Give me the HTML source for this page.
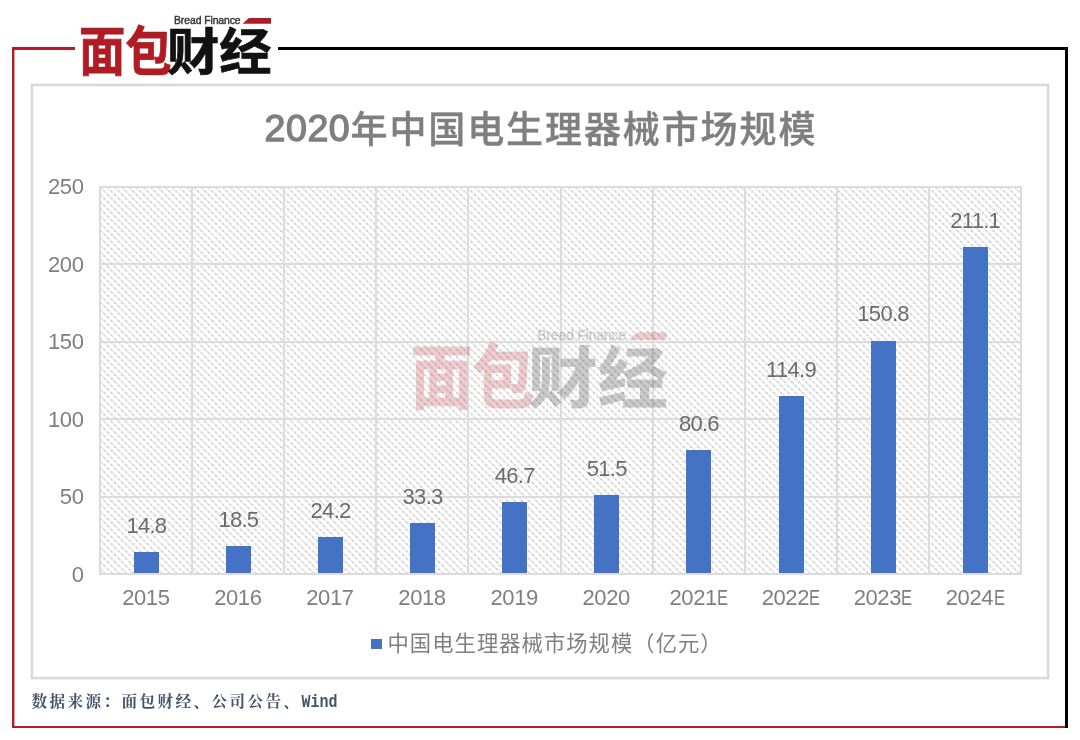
<!DOCTYPE html>
<html lang="zh-CN">
<head>
<meta charset="utf-8">
<title>2020年中国电生理器械市场规模</title>
<style>
*{margin:0;padding:0;box-sizing:border-box}
html,body{width:1080px;height:740px;background:#fff;overflow:hidden}
body{position:relative;font-family:"Liberation Sans","Noto Sans CJK SC",sans-serif}
.abs{position:absolute}
.frame div{position:absolute}
.chart{position:absolute;left:31px;top:84px;width:1018px;height:594.5px;border:2px solid #d9d9d9;background:#fff;box-shadow:0 0 0 1px #f3f3f3,inset 0 0 0 1px #f6f6f6}
.plot{position:absolute;left:99px;top:186px;width:923px;height:388px;
  background-color:#fff;}
.gh,.gv{position:absolute;background:#dcdcdc}
.title{position:absolute;left:264.6px;top:97px;height:60px;line-height:60px;color:#7f7f7f;white-space:nowrap}
.title .dg{font-family:"Liberation Sans",sans-serif;font-size:37.6px;font-weight:normal;-webkit-text-stroke:1.3px #7f7f7f;letter-spacing:0.5px;position:relative;top:0.5px}
.title .cj{font-family:"Liberation Sans","Noto Sans CJK SC",sans-serif;font-weight:500;font-size:37px;letter-spacing:1.9px;margin-left:0.3px;-webkit-text-stroke:0.4px #7f7f7f;position:relative;top:2.6px}
.yl{position:absolute;width:60px;left:23.5px;text-align:right;font-size:22px;letter-spacing:-0.4px;line-height:24px;height:24px;color:#7f7f7f}
.xl{position:absolute;width:92px;text-align:center;font-size:22px;letter-spacing:-0.4px;line-height:24px;height:24px;color:#7f7f7f;top:585.5px}
.xl .e{display:inline-block;transform:scaleX(0.75);transform-origin:0 50%;margin-left:0.5px;margin-right:-4.4px}
.dl{position:absolute;width:92px;text-align:center;font-size:22px;letter-spacing:-0.7px;line-height:24px;height:24px;color:#6c6c6c}
.bar{position:absolute;background:#4472c4}
.legend{position:absolute;left:387.5px;top:631px;height:26px;line-height:26px;font-size:21.3px;color:#7f7f7f;white-space:nowrap;font-family:"Liberation Sans","Noto Sans CJK SC",sans-serif;font-weight:400;letter-spacing:1.05px}
.lm{position:absolute;left:371px;top:638.5px;width:11px;height:10.5px;background:#4472c4}
.src{position:absolute;left:31.5px;top:691px;height:24px;line-height:24px;font-family:"Liberation Mono","Noto Serif CJK SC",serif;font-weight:700;color:#44546a;font-size:15.6px;letter-spacing:2.4px;white-space:nowrap}
.src .en{font-family:"Liberation Mono",monospace;font-weight:bold;font-size:15px;letter-spacing:0;display:inline-block;transform:scaleY(1.25);transform-origin:50% 78%;position:relative;top:1px}
.logo{position:absolute;left:80px;top:14px;width:192px;height:64px;background:#fff}
.logo .cn{position:absolute;left:0;top:0;white-space:nowrap;font-family:"Liberation Sans","Noto Sans CJK SC",sans-serif;font-weight:700;font-size:48px;line-height:60px;letter-spacing:0px}
.logo .r{position:absolute;left:-0.8px;top:5.5px;color:#b01c24;-webkit-text-stroke:0.7px #b01c24;transform-origin:0 0;transform:scale(0.965,1.105)}
.logo .k{position:absolute;left:87.3px;top:9.3px;color:#111;-webkit-text-stroke:0.7px #111;transform-origin:0 0;transform:scale(1.09,1.03)}
.logo .en{position:absolute;left:94px;top:0.8px;font-size:10.4px;line-height:12px;font-weight:normal;-webkit-text-stroke:0.45px #3a3a3a;letter-spacing:-0.08px;color:#3a3a3a;white-space:nowrap;font-family:"Liberation Sans",sans-serif}
.logo .pg{position:absolute;left:162.5px;top:3.6px;width:28.8px;height:6.2px;background:#b01c24;clip-path:polygon(24% 0,100% 0,100% 100%,0 100%)}
.wm{position:absolute;left:412px;top:327px;transform:scale(1.333);transform-origin:0 0;opacity:.21;background:transparent}
</style>
</head>
<body>
<div class="frame">
<div style="left:12px;top:47px;width:63px;height:3px;background:#b01c24"></div>
<div style="left:12px;top:47px;width:3px;height:681px;background:linear-gradient(to right,#b01c24 0,#b01c24 2px,rgba(176,28,36,.4) 2px,rgba(176,28,36,.4) 3px)"></div>
<div style="left:12px;top:726px;width:1055px;height:2px;background:#b01c24"></div>
<div style="left:278px;top:47px;width:790px;height:3px;background:#000"></div>
<div style="left:1065px;top:47px;width:3px;height:681px;background:#000"></div>
</div>
<div class="chart"></div>
<div class="title"><span class="dg">2020</span><span class="cj">年中国电生理器械市场规模</span></div>
<svg class="plot" width="923" height="388" viewBox="0 0 923 388"><defs><pattern id="hatch" patternUnits="userSpaceOnUse" width="7.2" height="7.2"><path d="M-1.8 -1.8 L9 9 M-1.8 5.4 L1.8 9 M5.4 -1.8 L9 1.8" stroke="#e2e2e2" stroke-width="1.2" fill="none"/><circle cx="1.8" cy="1.8" r="0.95" fill="#cacaca"/><circle cx="5.4" cy="5.4" r="0.95" fill="#cacaca"/></pattern></defs><rect x="0" y="0" width="923" height="388" fill="#ffffff"/><rect x="0" y="0" width="923" height="388" fill="url(#hatch)"/></svg>
<div class="gh" style="left:99.0px;top:573.2px;width:923.0px;height:2px"></div>
<div class="gh" style="left:99.0px;top:495.7px;width:923.0px;height:2px"></div>
<div class="gh" style="left:99.0px;top:418.2px;width:923.0px;height:2px"></div>
<div class="gh" style="left:99.0px;top:340.7px;width:923.0px;height:2px"></div>
<div class="gh" style="left:99.0px;top:263.2px;width:923.0px;height:2px"></div>
<div class="gh" style="left:99.0px;top:185.7px;width:923.0px;height:2px"></div>
<div class="gv" style="left:99.0px;top:185.7px;width:2px;height:389.5px"></div>
<div class="gv" style="left:191.1px;top:185.7px;width:2px;height:389.5px"></div>
<div class="gv" style="left:283.2px;top:185.7px;width:2px;height:389.5px"></div>
<div class="gv" style="left:375.3px;top:185.7px;width:2px;height:389.5px"></div>
<div class="gv" style="left:467.4px;top:185.7px;width:2px;height:389.5px"></div>
<div class="gv" style="left:559.5px;top:185.7px;width:2px;height:389.5px"></div>
<div class="gv" style="left:651.6px;top:185.7px;width:2px;height:389.5px"></div>
<div class="gv" style="left:743.7px;top:185.7px;width:2px;height:389.5px"></div>
<div class="gv" style="left:835.8px;top:185.7px;width:2px;height:389.5px"></div>
<div class="gv" style="left:927.9px;top:185.7px;width:2px;height:389.5px"></div>
<div class="gv" style="left:1020.0px;top:185.7px;width:2px;height:389.5px"></div>
<div class="yl" style="top:562.5px">0</div>
<div class="yl" style="top:485.0px">50</div>
<div class="yl" style="top:407.5px">100</div>
<div class="yl" style="top:330.0px">150</div>
<div class="yl" style="top:252.5px">200</div>
<div class="yl" style="top:175.0px">250</div>
<div class="logo wm"><span class="en">Bread Finance</span><span class="pg"></span><span class="cn"><span class="r">面包</span><span class="k">财经</span></span></div>
<div class="bar" style="left:133.9px;top:552.0px;width:25.0px;height:21.2px"></div>
<div class="dl" style="left:100.4px;top:513.9px">14.8</div>
<div class="xl" style="left:99.8px">2015</div>
<div class="bar" style="left:225.9px;top:546.2px;width:25.0px;height:27.0px"></div>
<div class="dl" style="left:192.4px;top:508.1px">18.5</div>
<div class="xl" style="left:191.8px">2016</div>
<div class="bar" style="left:318.1px;top:537.4px;width:25.0px;height:35.8px"></div>
<div class="dl" style="left:284.6px;top:499.3px">24.2</div>
<div class="xl" style="left:283.9px">2017</div>
<div class="bar" style="left:410.1px;top:523.2px;width:25.0px;height:50.0px"></div>
<div class="dl" style="left:376.6px;top:485.1px">33.3</div>
<div class="xl" style="left:376.0px">2018</div>
<div class="bar" style="left:502.3px;top:502.4px;width:25.0px;height:70.8px"></div>
<div class="dl" style="left:468.8px;top:464.3px">46.7</div>
<div class="xl" style="left:468.2px">2019</div>
<div class="bar" style="left:594.3px;top:494.9px;width:25.0px;height:78.3px"></div>
<div class="dl" style="left:560.8px;top:456.8px">51.5</div>
<div class="xl" style="left:560.2px">2020</div>
<div class="bar" style="left:686.4px;top:449.6px;width:25.0px;height:123.6px"></div>
<div class="dl" style="left:652.9px;top:411.5px">80.6</div>
<div class="xl" style="left:652.4px">2021<span class="e">E</span></div>
<div class="bar" style="left:778.5px;top:396.3px;width:25.0px;height:176.9px"></div>
<div class="dl" style="left:745.0px;top:358.2px">114.9</div>
<div class="xl" style="left:744.5px">2022<span class="e">E</span></div>
<div class="bar" style="left:870.6px;top:340.5px;width:25.0px;height:232.7px"></div>
<div class="dl" style="left:837.1px;top:302.4px">150.8</div>
<div class="xl" style="left:836.5px">2023<span class="e">E</span></div>
<div class="bar" style="left:962.7px;top:246.7px;width:25.0px;height:326.5px"></div>
<div class="dl" style="left:929.2px;top:208.6px">211.1</div>
<div class="xl" style="left:928.6px">2024<span class="e">E</span></div>
<div class="lm"></div>
<div class="legend">中国电生理器械市场规模（亿元）</div>
<div class="src">数据来源：面包财经、公司公告、<span class="en">Wind</span></div>
<div class="logo"><span class="en">Bread Finance</span><span class="pg"></span><span class="cn"><span class="r">面包</span><span class="k">财经</span></span></div>
</body>
</html>
